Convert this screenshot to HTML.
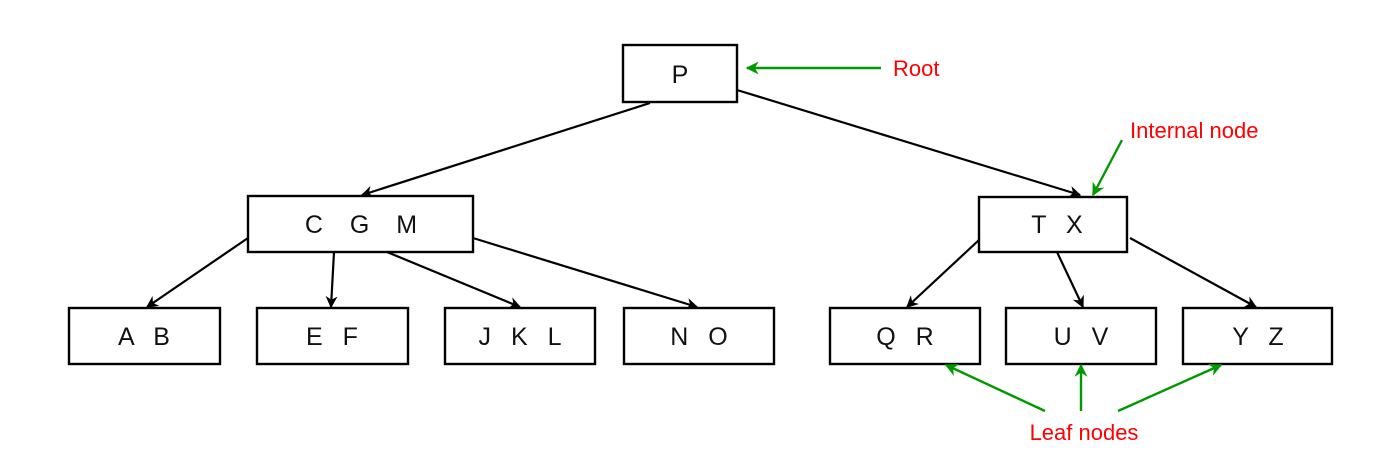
<!DOCTYPE html>
<html><head><style>html,body{margin:0;padding:0;background:#fff}svg{display:block}</style></head>
<body>
<svg width="1384" height="467" viewBox="0 0 1384 467" xmlns="http://www.w3.org/2000/svg" font-family="Liberation Sans, Arial, sans-serif">
<defs>
<marker id="ab" viewBox="0 0 10 10" refX="9" refY="5" markerWidth="13" markerHeight="12" orient="auto" markerUnits="userSpaceOnUse"><path d="M0,0 L10,5 L0,10 L3,5 z" fill="#000"/></marker>
<marker id="ag" viewBox="0 0 10 10" refX="9" refY="5" markerWidth="14" markerHeight="13" orient="auto" markerUnits="userSpaceOnUse"><path d="M0,0 L10,5 L0,10 L3,5 z" fill="#009900"/></marker>
</defs>
<style>
.b{fill:#fff;stroke:#000;stroke-width:2.4}
.t{font-size:25px;fill:#111;text-anchor:middle;word-spacing:13px}
.l{stroke:#000;stroke-width:2.2;fill:none}
.g{stroke:#009900;stroke-width:2.4;fill:none}
.r{font-size:22px;fill:#ff0000}
</style>
<line class="l" x1="650" y1="103" x2="362" y2="195" marker-end="url(#ab)"/>
<line class="l" x1="737" y1="90" x2="1080" y2="195" marker-end="url(#ab)"/>
<line class="l" x1="248" y1="238" x2="147" y2="307" marker-end="url(#ab)"/>
<line class="l" x1="334" y1="252" x2="331" y2="307" marker-end="url(#ab)"/>
<line class="l" x1="387" y1="252" x2="520" y2="307" marker-end="url(#ab)"/>
<line class="l" x1="473" y1="238" x2="697" y2="307" marker-end="url(#ab)"/>
<line class="l" x1="979" y1="240" x2="907" y2="307" marker-end="url(#ab)"/>
<line class="l" x1="1057" y1="252" x2="1083" y2="307" marker-end="url(#ab)"/>
<line class="l" x1="1130" y1="238" x2="1256" y2="307" marker-end="url(#ab)"/>

<rect class="b" x="623" y="45" width="114" height="57"/><text class="t" x="680" y="83">P</text>
<rect class="b" x="248" y="196" width="225" height="56"/><text class="t" x="361" y="233" style="word-spacing:20px">C G M</text>
<rect class="b" x="979" y="197" width="148" height="55"/><text class="t" x="1057" y="233">T X</text>
<rect class="b" x="69" y="308" width="151" height="56"/><text class="t" x="144" y="345">A B</text>
<rect class="b" x="257" y="308" width="151" height="56"/><text class="t" x="332" y="345">E F</text>
<rect class="b" x="445" y="308" width="150" height="56"/><text class="t" x="520" y="345">J K L</text>
<rect class="b" x="624" y="308" width="150" height="56"/><text class="t" x="699" y="345">N O</text>
<rect class="b" x="830" y="308" width="150" height="56"/><text class="t" x="905" y="345">Q R</text>
<rect class="b" x="1006" y="308" width="150" height="56"/><text class="t" x="1081" y="345">U V</text>
<rect class="b" x="1183" y="308" width="149" height="56"/><text class="t" x="1258" y="345">Y Z</text>

<line class="g" x1="881" y1="68" x2="747" y2="68" marker-end="url(#ag)"/>
<text class="r" x="893" y="76">Root</text>
<line class="g" x1="1122" y1="140" x2="1093" y2="195" marker-end="url(#ag)"/>
<text class="r" x="1130" y="138">Internal node</text>
<line class="g" x1="1045" y1="411" x2="946" y2="365" marker-end="url(#ag)"/>
<line class="g" x1="1081" y1="411" x2="1081" y2="365" marker-end="url(#ag)"/>
<line class="g" x1="1118" y1="411" x2="1221" y2="365" marker-end="url(#ag)"/>
<text class="r" x="1084" y="440" text-anchor="middle">Leaf nodes</text>
</svg>
</body></html>
